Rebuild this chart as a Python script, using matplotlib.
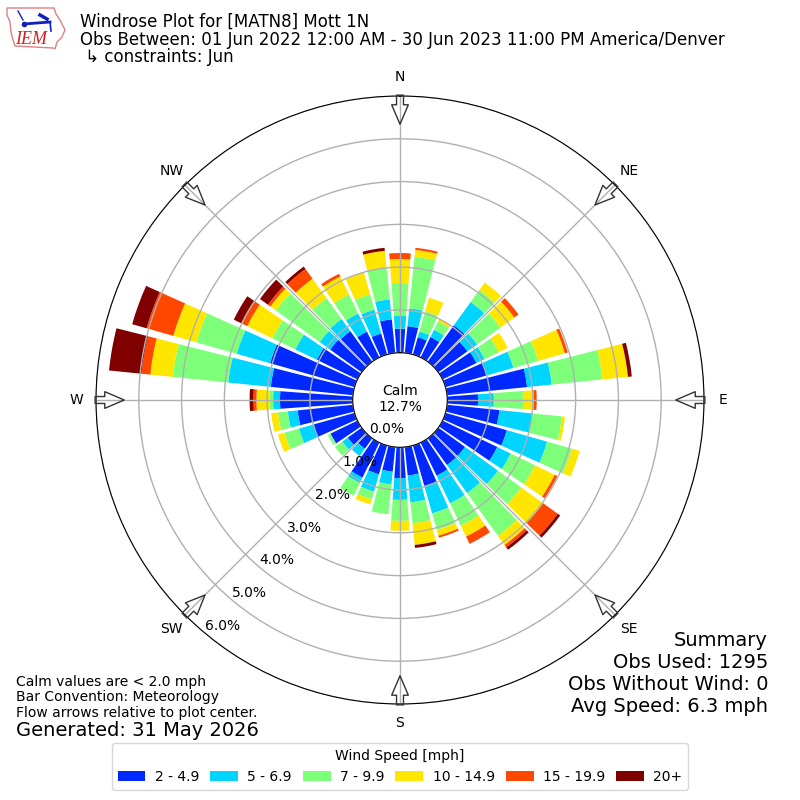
import numpy as np
import matplotlib
matplotlib.use("Agg")
import matplotlib.pyplot as plt
from matplotlib.patches import Patch, Polygon

directions = list(range(0, 360, 10))
speed_labels = ["2 - 4.9", "5 - 6.9", "7 - 9.9", "10 - 14.9", "15 - 19.9", "20+"]
compass = ["N", "NE", "E", "SE", "S", "SW", "W", "NW"]
rtick_values = [0, 1, 2, 3, 4, 5, 6]

s2_5 = [.56,.63,.42,.53,1.05,.84,.88,1.00,1.88,.72,1.23,1.49,1.42,.77,.77,.86,.98,.67,
        .72,.58,.70,.91,.30,.40,.70,1.00,1.30,1.70,1.93,2.05,1.05,.91,.88,.67,.51,.79]
s5_7 = [.30,.42,.14,.19,.67,.28,.21,.65,.58,.37,.77,.98,.35,.95,.81,.72,.67,.63,
        .51,.30,.42,.14,.21,.16,0,.35,.23,.16,1.00,.81,.56,.30,.35,.47,.58,.47]
s7_10 = [.77,1.21,.49,.21,.35,.67,.37,.60,1.19,.70,.70,.60,.63,.67,1.23,.58,.40,.49,
         .49,.70,.19,.33,0,.21,.07,.35,.23,.09,1.30,.98,.60,1.26,.60,.49,.37,.74]
s10_15 = [.56,.16,.33,.07,.21,.40,.23,.65,.60,.23,.07,.19,.51,.63,.26,.28,.14,.51,
          .23,0,.12,0,0,0,0,.16,.16,.30,.53,.56,.65,.16,.56,.47,.53,.40]
s15_20 = [.14,.05,0,0,0,.12,0,.07,0,.07,0,0,.07,.42,.07,.19,.05,0,
          0,0,0,0,0,0,0,0,0,.07,.21,.65,.16,.07,.28,.07,0,0]
s20p = [0,0,0,0,0,0,0,0,.09,0,0,0,0,.07,.07,0,0,.07,
        0,0,0,0,0,0,0,0,0,.09,.76,.35,.19,.23,.07,0,0,.07]
series = [s2_5, s5_7, s7_10, s10_15, s15_20, s20p]

plt.rcParams["font.family"] = ["DejaVu Sans"]
fig = plt.figure(figsize=(8, 8), dpi=100)
ax = fig.add_axes([96 / 800, 96 / 800, 608 / 800, 608 / 800], projection="polar")
ax.set_theta_zero_location("N")
ax.set_theta_direction(-1)
ax.set_ylim(0, 5.965)
ax.set_rorigin(-47.5 / 43)

colors = plt.cm.jet(np.arange(1, 7) / 6)
theta = np.deg2rad(directions)
width = np.deg2rad(8.4)
bottom = np.zeros(len(directions))
for vals, col in zip(series, colors):
    vals = np.array(vals)
    ax.bar(theta, vals, width=width, bottom=bottom, color=col, linewidth=0, align="center")
    bottom = bottom + vals

ax.set_xticks(np.deg2rad(np.arange(0, 360, 45)))
ax.set_xticklabels(compass, fontsize=10)
ax.tick_params(axis="x", pad=3.5)
ax.tick_params(axis="y", pad=0)
ax.set_rgrids(rtick_values, labels=[f"{v:.1f}%" for v in rtick_values], angle=220, fontsize=10)
for lab in ax.get_yticklabels():
    lab.set_ha("left")
    lab.set_va("bottom")
ax.grid(True, color="#b0b0b0", lw=1)

for th in np.deg2rad(np.arange(0, 360, 45)):
    ax.annotate("", xy=(th, 5.34), xytext=(th, 6.02), xycoords="data", textcoords="data",
                annotation_clip=False,
                arrowprops=dict(facecolor="none", edgecolor="#333333", lw=1.0,
                                width=5, headwidth=12, headlength=14, shrink=0))

fig.text(400 / 800, 1 - 399 / 800, "Calm\n12.7%", ha="center", va="center", fontsize=10)

fig.text(80 / 800, 1 - 13 / 800,
         "Windrose Plot for [MATN8] Mott 1N\n"
         "Obs Between: 01 Jun 2022 12:00 AM - 30 Jun 2023 11:00 PM America/Denver\n"
         " \u21b3 constraints: Jun",
         ha="left", va="top", fontsize=12, linespacing=0.965)

fig.text(768 / 800, 1 - 716 / 800,
         "Summary\nObs Used: 1295\nObs Without Wind: 0\nAvg Speed: 6.3 mph",
         ha="right", va="bottom", fontsize=14, linespacing=1.2)
fig.text(16 / 800, 1 - 720 / 800,
         "Calm values are < 2.0 mph\nBar Convention: Meteorology\nFlow arrows relative to plot center.",
         ha="left", va="bottom", fontsize=10, linespacing=1.15)
fig.text(16 / 800, 1 - 730 / 800, "Generated: 31 May 2026", ha="left", va="center", fontsize=14)

handles = [Patch(facecolor=c, edgecolor="none") for c in colors]
fig.legend(handles, speed_labels, title="Wind Speed [mph]", ncol=6, loc="center",
           bbox_to_anchor=(400 / 800, 1 - 766.5 / 800), fontsize=10, title_fontsize=10,
           columnspacing=0.8, handletextpad=0.67)

logo = fig.add_axes([0, 1 - 60 / 800, 70 / 800, 60 / 800])
logo.set_xlim(0, 70)
logo.set_ylim(60, 0)
logo.axis("off")
iowa_x = [7, 54, 56, 60, 65, 62, 57, 55, 53, 15, 13, 11, 10, 7]
iowa_y = [8, 8, 14, 20, 30, 37, 42, 49, 48, 46, 40, 32, 22, 15]
logo.add_patch(Polygon(np.column_stack([iowa_x, iowa_y]), closed=True, fill=False,
                       edgecolor="#e08080", lw=1))
logo.plot([24, 50], [24, 22], color="#1020c0", lw=2)
logo.plot([18, 23], [11, 20], color="#1020c0", lw=1)
logo.plot([40, 47], [15, 19], color="#1020c0", lw=2.5)
logo.plot([50, 51], [22, 31], color="#1020c0", lw=1.2)
logo.plot([24], [24], "o", color="#1020c0", ms=3)
logo.text(15, 39, "IEM", color="#d02020", family="Liberation Serif", style="italic",
          fontsize=13, va="center", ha="left")

fig.savefig("out.png", dpi=100)
